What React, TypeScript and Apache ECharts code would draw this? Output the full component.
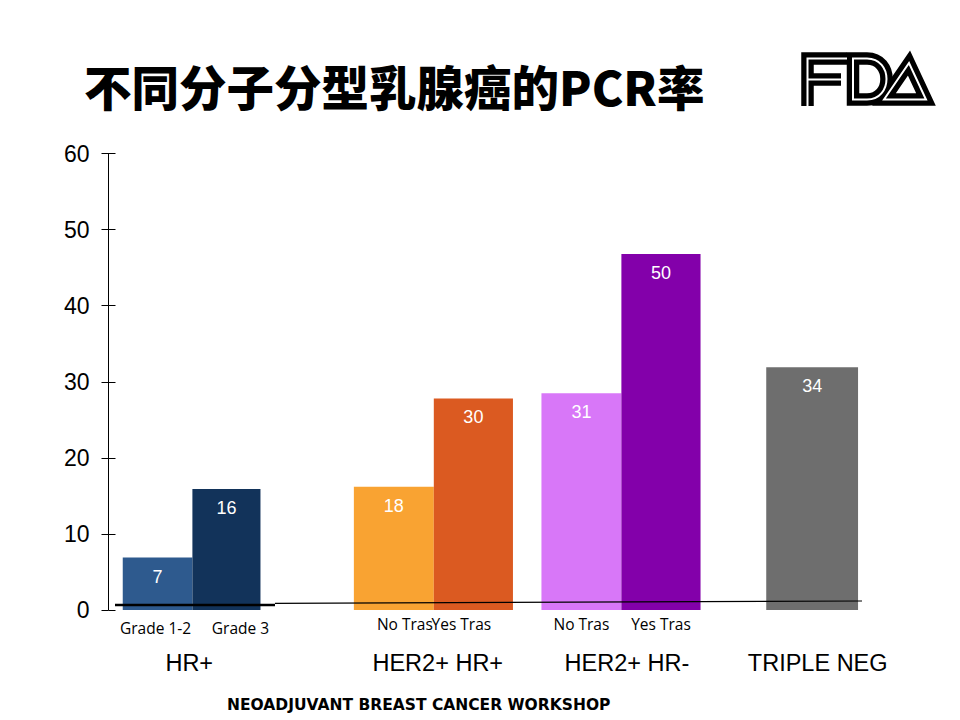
import React, { useEffect, useRef } from "react";
import * as echarts from "echarts";

// ---------- data ----------
const BAR_NAMES = ["Grade 1-2", "Grade 3", "No Tras", "Yes Tras", "No Tras", "Yes Tras", ""];
const BAR_HEIGHTS = [6.9, 15.9, 16.2, 27.8, 28.5, 46.8, 31.9];
const BAR_LABELS = ["7", "16", "18", "30", "31", "50", "34"];
const GROUP_NAMES = ["HR+", "HER2+ HR+", "HER2+ HR-", "TRIPLE NEG"];
const Y_TICKS = [0, 10, 20, 30, 40, 50, 60];
const TITLE = "不同分子分型乳腺癌的PCR率";
const FOOTER = "NEOADJUVANT BREAST CANCER WORKSHOP";

// ---------- layout (x in abstract slot units 0..100) ----------
const BAR_X0 = [1.8, 10.6, 31.0, 41.1, 54.7, 64.8, 83.1];
const BAR_X1 = [10.6, 19.2, 41.1, 51.1, 64.8, 74.8, 94.7];
const NAME_DX = [-2, 14, 11, -12, 0, 0, 0];
const GROUP_X = [10.2, 41.6, 65.5, 89.6];

// ---------- styles ----------
const BAR_COLORS = ["#2e5a8e", "#12335a", "#f9a332", "#db5a21", "#d877f8", "#8300aa", "#6e6e6e"];
const ARIAL = '"Liberation Sans", Arial, sans-serif';
const CALIBRI = '"Open Sans", "Noto Sans", sans-serif';

// FDA logo shapes
const F_D = "M807.5 106 L807.5 58.5 L847 58.5 M807.5 79.5 L841 79.5";
const D_D = "M853 58.5 L867 58.5 C893 58.5 893 99.5 867 99.5 L853 99.5 Z";
const A_D = "M884 99.5 L909 63 L926 99.5 Z";
echarts.graphic.registerShape("fdaF", echarts.graphic.extendPath(F_D, {}));
echarts.graphic.registerShape("fdaD", echarts.graphic.extendPath(D_D, {}));
echarts.graphic.registerShape("fdaA", echarts.graphic.extendPath(A_D, {}));

function logoParts() {
  const parts: any[] = [];
  ["fdaF", "fdaD", "fdaA"].forEach((t) => {
    parts.push({ type: t, x: 0, y: 0, z: 10, style: { fill: "none", stroke: "#000", lineWidth: 12.5, lineJoin: "miter", miterLimit: 4 } });
  });
  ["fdaF", "fdaD", "fdaA"].forEach((t) => {
    parts.push({ type: t, x: 0, y: 0, z: 11, style: { fill: "none", stroke: "#fff", lineWidth: 2, lineJoin: "miter", miterLimit: 4 } });
  });
  return parts;
}

export default function App() {
  const ref = useRef<HTMLDivElement>(null);
  useEffect(() => {
    if (!ref.current) return;
    const chart = echarts.init(ref.current, undefined, { renderer: "svg" });
    const yMin = Y_TICKS[0];
    const yMax = Y_TICKS[Y_TICKS.length - 1];
    const yInt = Y_TICKS[1] - Y_TICKS[0];
    chart.setOption({
      animation: false,
      backgroundColor: "#fff",
      title: [
        {
          text: TITLE,
          left: 84,
          top: 62,
          padding: 0,
          textStyle: { fontFamily: '"Noto Sans CJK SC", sans-serif', fontWeight: 900, fontSize: 47.5, color: "#000" },
        },
        {
          text: FOOTER,
          left: 227,
          top: 697,
          padding: 0,
          textStyle: { fontFamily: '"DejaVu Sans", sans-serif', fontWeight: "bold", fontSize: 15.5, color: "#000" },
        },
      ],
      grid: { left: 108.5, right: 60, top: 153.5, bottom: 110 },
      xAxis: { type: "value", min: 0, max: 100, show: false },
      yAxis: [
        {
          type: "value",
          min: yMin,
          max: yMax,
          interval: yInt,
          axisLine: { show: true, lineStyle: { color: "#000", width: 1 } },
          axisTick: { show: true, length: 7, lineStyle: { color: "#000" } },
          splitLine: { show: false },
          axisLabel: { color: "#000", fontSize: 23, fontFamily: ARIAL, margin: 19 },
        },
        {
          type: "value",
          position: "left",
          min: yMin,
          max: yMax,
          interval: yInt,
          axisLine: { show: false },
          axisTick: { show: true, inside: true, length: 7, lineStyle: { color: "#000" } },
          splitLine: { show: false },
          axisLabel: { show: false },
        },
      ],
      series: [
        {
          type: "custom",
          name: "bars",
          data: BAR_HEIGHTS.map((v, i) => [BAR_X0[i], BAR_X1[i], v]),
          encode: { x: [0, 1], y: 2 },
          renderItem: (params: any, api: any) => {
            const i = params.dataIndex;
            const p0 = api.coord([api.value(0), api.value(2)]);
            const p1 = api.coord([api.value(1), 0]);
            const cx = (p0[0] + p1[0]) / 2;
            const children: any[] = [
              {
                type: "rect",
                shape: { x: p0[0], y: p0[1], width: p1[0] - p0[0], height: p1[1] - p0[1] },
                style: { fill: BAR_COLORS[i] },
              },
              {
                type: "text",
                x: cx,
                y: p0[1] + 19,
                style: { text: BAR_LABELS[i], fill: "#fff", fontSize: 18, fontFamily: ARIAL, align: "center", verticalAlign: "middle" },
              },
            ];
            if (BAR_NAMES[i]) {
              children.push({
                type: "text",
                x: cx + NAME_DX[i],
                y: p1[1] + (i < 2 ? 18 : 14),
                style: { text: BAR_NAMES[i], fill: "#000", fontSize: 15.5, fontFamily: CALIBRI, align: "center", verticalAlign: "middle" },
              });
            }
            return { type: "group", children };
          },
        },
        {
          type: "custom",
          name: "groups",
          data: GROUP_X.map((x) => [x, 0]),
          encode: { x: 0, y: 1 },
          renderItem: (params: any, api: any) => {
            const i = params.dataIndex;
            const p = api.coord([api.value(0), 0]);
            return {
              type: "text",
              x: p[0],
              y: p[1] + 53,
              style: { text: GROUP_NAMES[i], fill: "#000", fontSize: 23.5, fontFamily: ARIAL, align: "center", verticalAlign: "middle" },
            };
          },
        },
      ],
      graphic: [
        { type: "line", z: 20, shape: { x1: 115, y1: 605, x2: 275, y2: 605 }, style: { stroke: "#000", lineWidth: 2.5 } },
        { type: "line", z: 20, shape: { x1: 275, y1: 603.3, x2: 862, y2: 601 }, style: { stroke: "#000", lineWidth: 1.2 } },
        ...logoParts(),
      ],
    });
    return () => chart.dispose();
  }, []);
  return <div ref={ref} style={{ position: "absolute", left: 0, top: 0, width: 960, height: 720, background: "#fff" }} />;
}
